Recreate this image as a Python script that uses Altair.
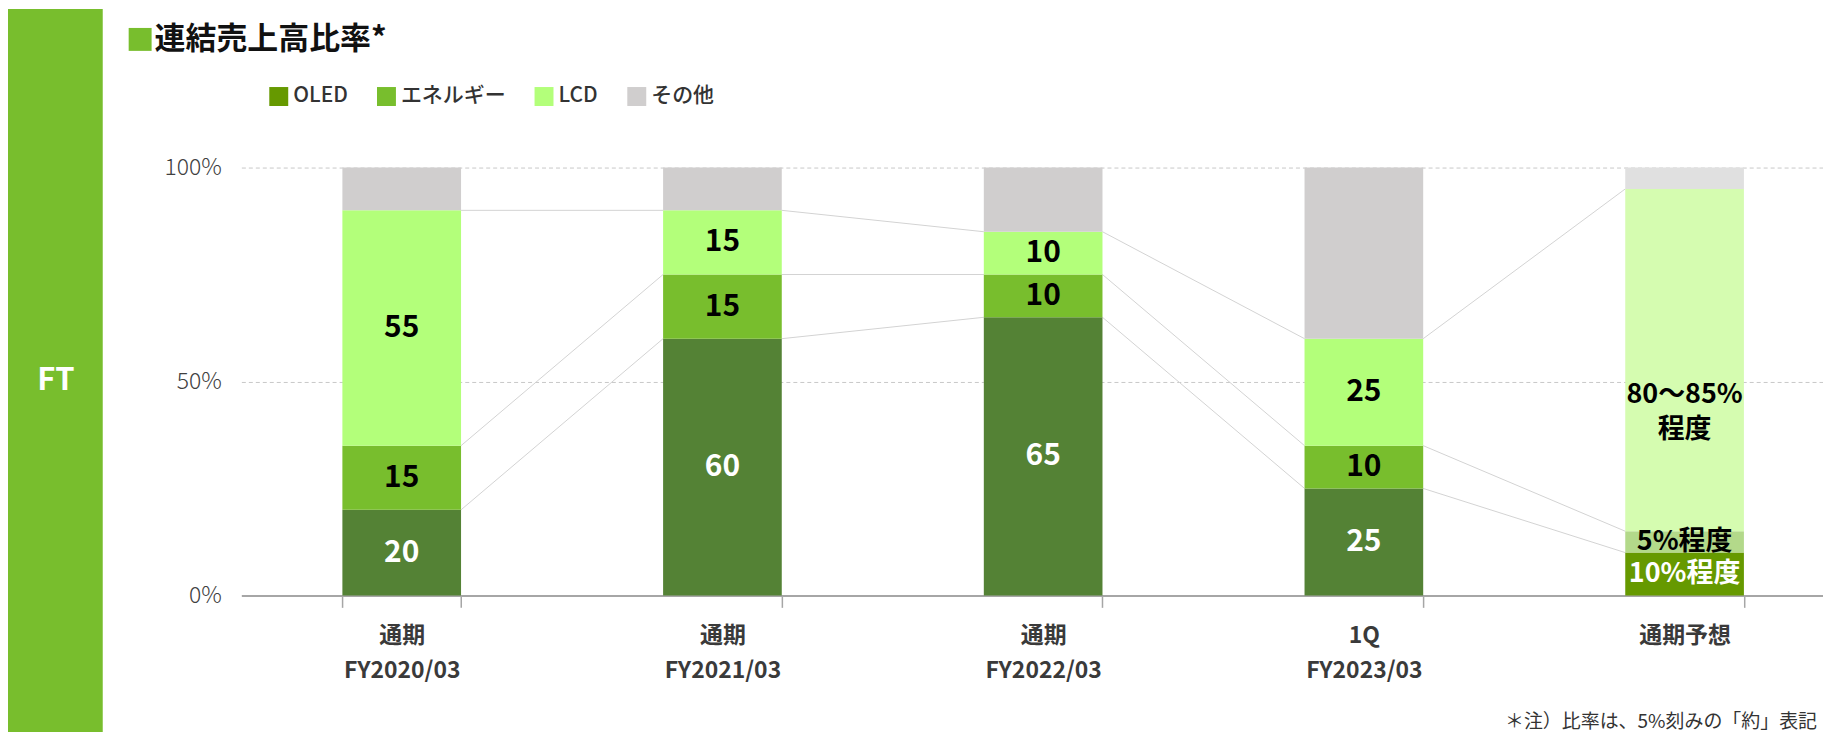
import altair as alt
import pandas as pd

FONT = "Noto Sans CJK JP"

# ---- data -------------------------------------------------------------
categories = ["通期|FY2020/03", "通期|FY2021/03", "通期|FY2022/03", "1Q|FY2023/03", "通期予想"]
segments = ["OLED", "エネルギー", "LCD", "その他"]
is_forecast = [False, False, False, False, True]

oled = [20, 60, 65, 25, 10]
energy = [15, 15, 10, 10, 5]
lcd = [55, 15, 10, 25, 80]
other = [10, 10, 15, 40, 5]

oled_labels = ["20", "60", "65", "25", "10%程度"]
energy_labels = ["15", "15", "10", "10", "5%程度"]
lcd_labels = ["55", "15", "10", "25", "80〜85%|程度"]
other_labels = ["", "", "", "", ""]

actual_colors = ["#548235", "#78BE2D", "#B3FF7A", "#D0CECE"]
forecast_colors = ["#669900", "#B3D98A", "#D5FCB0", "#E0E0E0"]
legend_colors = ["#669900", "#78BE2D", "#B3FF7A", "#D0CECE"]

title_text = "連結売上高比率*"
side_text = "FT"
note_text = "＊注）比率は、5%刻みの「約」表記"

# ---- tables -------------------------------------------------------------
series = [oled, energy, lcd, other]
labels = [oled_labels, energy_labels, lcd_labels, other_labels]
rows = []
bounds = []
for i, cat in enumerate(categories):
    cum = 0
    b = []
    for j, seg in enumerate(segments):
        v = series[j][i]
        rows.append({
            "period": cat,
            "segment": seg,
            "key": seg + ("予想" if is_forecast[i] else ""),
            "forecast": is_forecast[i],
            "start": cum / 100,
            "end": (cum + v) / 100,
            "mid": (cum + v / 2) / 100,
            "label": labels[j][i],
            "order": j,
        })
        cum += v
        b.append(cum / 100)
    bounds.append(b)
df = pd.DataFrame(rows)

conn = []
for i in range(len(categories) - 1):
    for j in range(3):
        conn.append({"period": categories[i], "to": categories[i + 1],
                     "y_from": bounds[i][j], "y_to": bounds[i + 1][j]})
conn_df = pd.DataFrame(conn)

color_domain = segments + [s + "予想" for s in segments]
color_range = actual_colors + forecast_colors

xscale = alt.Scale(domain=categories, range=[0, 1608], paddingInner=0.63, paddingOuter=0.315)
yscale = alt.Scale(domain=[0, 1])

x_axis = alt.Axis(labelExpr="split(datum.label, '|')", labelAngle=0,
                  labelFont=FONT, labelFontSize=23, labelFontWeight="bold",
                  labelColor="#3A3A3A", labelLineHeight=35, labelPadding=17,
                  labelBaseline="top",
                  domainColor="#A6A6A6", domainWidth=2,
                  tickColor="#A6A6A6", tickSize=12, tickWidth=1.5,
                  tickBand="extent", grid=False, title=None)
y_axis = alt.Axis(values=[0, 0.5, 1], format=".0%", labelFont=FONT,
                  labelFontSize=23, labelFontWeight=300, labelColor="#404040",
                  labelPadding=20, ticks=False, domain=False, grid=True,
                  gridDash=[4, 3], gridColor="#C8C8C8", gridWidth=1, title=None)

one = pd.DataFrame({"a": [0]})

# ---- layers -------------------------------------------------------------
side_bar = alt.Chart(one).mark_rect(color="#78BE2D").encode(
    x=alt.value(-234), x2=alt.value(-139), y=alt.value(-159), y2=alt.value(600))
side_label = alt.Chart(one).mark_text(font=FONT, fontSize=31, fontWeight="bold", color="white",
                                      align="center", baseline="middle").encode(
    x=alt.value(-186), y=alt.value(214), text=alt.value(side_text))
title_sq = alt.Chart(one).mark_rect(color="#78BE2D").encode(
    x=alt.value(-113), x2=alt.value(-90), y=alt.value(-140), y2=alt.value(-117))
title = alt.Chart(one).mark_text(font=FONT, fontSize=31, fontWeight="bold", color="#111111",
                                 align="left", baseline="middle").encode(
    x=alt.value(-87), y=alt.value(-128), text=alt.value(title_text))
note = alt.Chart(one).mark_text(font=FONT, fontSize=19, color="#333333",
                                align="right", baseline="middle").encode(
    x=alt.value(1580), y=alt.value(556), text=alt.value(note_text))

bars = alt.Chart(df).mark_bar(strokeWidth=0).encode(
    x=alt.X("period:N", scale=xscale, sort=categories, title=None, axis=x_axis),
    y=alt.Y("start:Q", scale=yscale, title=None, axis=y_axis),
    y2="end:Q",
    fill=alt.Fill("key:N", scale=alt.Scale(domain=color_domain, range=color_range), legend=None),
)

rules = alt.Chart(conn_df).mark_rule(color="#D3D3D3", strokeWidth=1).encode(
    x=alt.X("period:N", scale=xscale, bandPosition=1, title=None, axis=x_axis),
    x2=alt.X2("to:N", bandPosition=0),
    y=alt.Y("y_from:Q", scale=yscale, title=None, axis=y_axis),
    y2="y_to:Q",
)

txt_color = alt.condition("datum.segment == 'OLED'", alt.value("white"), alt.value("black"))

texts = alt.Chart(df).transform_filter(
    "datum.label != '' && !datum.forecast"
).mark_text(font=FONT, fontSize=30, fontWeight="bold", baseline="middle").encode(
    x=alt.X("period:N", scale=xscale, title=None, axis=x_axis),
    y=alt.Y("mid:Q", scale=yscale, title=None, axis=y_axis),
    text="label:N",
    color=txt_color,
)

fc_texts = alt.Chart(df).transform_filter(
    "datum.label != '' && datum.forecast && indexof(datum.label, '|') < 0"
).mark_text(font=FONT, fontSize=27, fontWeight="bold", baseline="middle").encode(
    x=alt.X("period:N", scale=xscale, title=None, axis=x_axis),
    y=alt.Y("mid:Q", scale=yscale, title=None, axis=y_axis),
    text="label:N",
    color=txt_color,
)

special = alt.Chart(df).transform_filter(
    "indexof(datum.label, '|') >= 0"
).transform_calculate(lines="split(datum.label, '|')").mark_text(
    font=FONT, fontSize=27, fontWeight="bold", baseline="middle", lineHeight=35, dy=35
).encode(
    x=alt.X("period:N", scale=xscale, title=None, axis=x_axis),
    y=alt.Y("mid:Q", scale=yscale, title=None, axis=y_axis),
    text="lines:N",
    color=txt_color,
)

legend_df = pd.DataFrame({"segment": segments})
legend_layer = alt.Chart(legend_df).mark_square(size=100, filled=True).encode(
    x=alt.value(-1000), y=alt.value(-1000),
    color=alt.Color("segment:N", sort=segments,
                    scale=alt.Scale(domain=segments, range=legend_colors),
                    legend=alt.Legend(orient="none", legendX=27, legendY=-82,
                                      direction="horizontal", title=None,
                                      symbolType="square", symbolSize=361,
                                      symbolStrokeWidth=0, symbolOpacity=1,
                                      labelFont=FONT, labelFontSize=21,
                                      labelFontWeight=500, labelColor="#333333",
                                      labelOffset=4, columnPadding=28, padding=0)),
)

chart = alt.layer(
    side_bar, side_label, title_sq, title, rules, bars, texts, fc_texts, special,
    legend_layer, note
).properties(
    width=1586, height=429,
    padding={"left": 234, "top": 159, "right": 0, "bottom": 136},
    autosize=alt.AutoSizeParams(type="none"),
    background="white",
).configure_view(stroke=None)

chart.save("out.html", embed_options={"renderer": "svg", "actions": False})
